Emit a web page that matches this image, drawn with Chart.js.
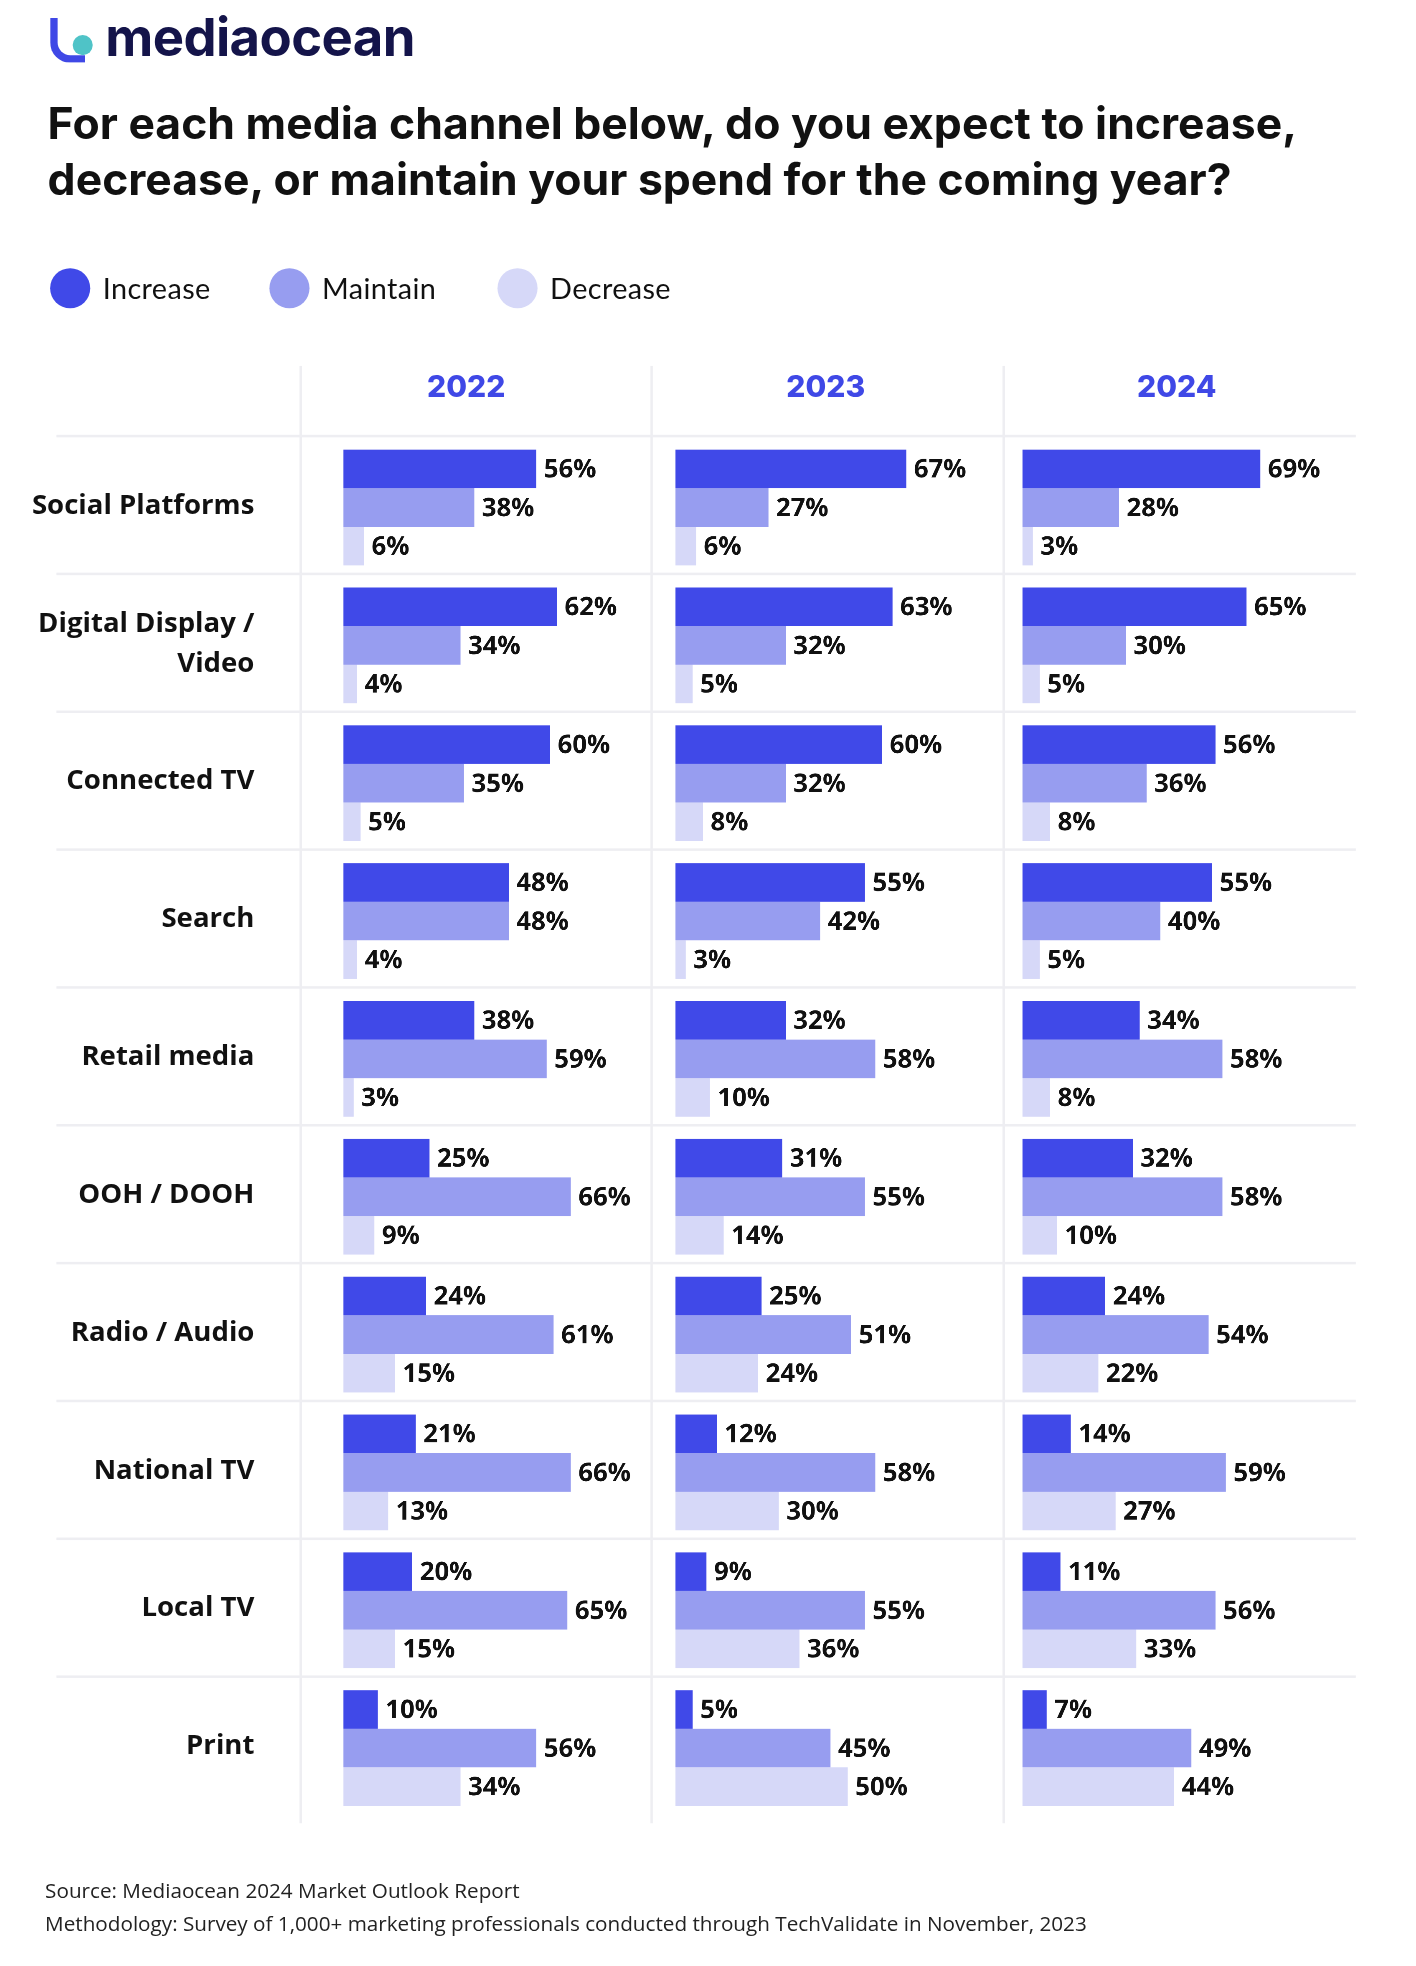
<!DOCTYPE html>
<html><head><meta charset="utf-8">
<script src="https://cdn.jsdelivr.net/npm/chart.js@4"></script>
<style>
html,body{margin:0;padding:0;background:#fff;}
#wrap{position:absolute;left:0;top:0;width:1130px;height:1569px;transform:scale(1.2531);transform-origin:0 0;font-family:Lato,"Open Sans",sans-serif;color:#111;}
.abs{position:absolute;}
.title{left:38px;top:76px;font-family:Inter,sans-serif;font-weight:700;font-size:35.5px;line-height:45px;color:#111;letter-spacing:0px;white-space:nowrap;}
.leg{top:214px;font-size:23px;display:flex;align-items:center;letter-spacing:0.3px;}
.leg i{display:inline-block;width:32px;height:32px;border-radius:50%;margin-right:10px;}
.hdr{top:294px;font-weight:800;font-size:24px;color:#3f48e6;width:200px;text-align:center;font-family:Inter,sans-serif;}
.cat{right:927px;text-align:right;font-weight:700;font-size:22px;line-height:32px;font-family:"Open Sans",sans-serif;white-space:nowrap;}
.hl{left:45px;width:1037px;height:2px;background:#eeeef2;}
.vl{top:292px;width:2px;height:1163px;background:#eeeef2;}
.src{left:36px;font-size:16.5px;color:#222;font-family:"Open Sans",sans-serif;}
canvas{position:absolute;}
</style></head><body>
<div id="wrap">
  <div class="abs" style="left:38px;top:10px;width:42px;height:36px;">
    <div class="abs" style="left:2px;top:4px;width:22px;height:30px;border:6px solid #3f48e6;border-top:none;border-right:none;border-radius:0 0 0 16px;"></div>
    <div class="abs" style="left:20px;top:18px;width:16px;height:16px;border-radius:50%;background:#4fc3c7;"></div>
  </div>
  <div class="abs" style="left:84px;top:4px;font-family:Inter,sans-serif;font-weight:700;font-size:42px;color:#14144a;letter-spacing:-0.5px;">mediaocean</div>
  <div class="abs title">For each media channel below, do you expect to increase,<br>decrease, or maintain your spend for the coming year?</div>
  <div class="abs leg" style="left:40px;"><i style="background:#4049e8"></i>Increase</div>
  <div class="abs leg" style="left:215px;"><i style="background:#979df0"></i>Maintain</div>
  <div class="abs leg" style="left:397px;"><i style="background:#d6d8f8"></i>Decrease</div>
  <canvas id="c0" width="275" height="1100"></canvas><canvas id="c1" width="275" height="1100"></canvas><canvas id="c2" width="275" height="1100"></canvas>
  <div class="abs src" style="top:1497px;">Source: Mediaocean 2024 Market Outlook Report</div>
  <div class="abs src" style="top:1523px;">Methodology: Survey of 1,000+ marketing professionals conducted through TechValidate in November, 2023</div>
</div>
<script>
const categories=["Social Platforms","Digital Display /\nVideo","Connected TV","Search","Retail media","OOH / DOOH","Radio / Audio","National TV","Local TV","Print"];
const years=["2022","2023","2024"];
const series=["Increase","Maintain","Decrease"];
const increase2022=[56,62,60,48,38,25,24,21,20,10];
const maintain2022=[38,34,35,48,59,66,61,66,65,56];
const decrease2022=[6,4,5,4,3,9,15,13,15,34];
const increase2023=[67,63,60,55,32,31,25,12,9,5];
const maintain2023=[27,32,32,42,58,55,51,58,55,45];
const decrease2023=[6,5,8,3,10,14,24,30,36,50];
const increase2024=[69,65,56,55,34,32,24,14,11,7];
const maintain2024=[28,30,36,40,58,58,54,59,56,49];
const decrease2024=[3,5,8,5,8,10,22,27,33,44];
const data=[[increase2022,maintain2022,decrease2022],[increase2023,maintain2023,decrease2023],[increase2024,maintain2024,decrease2024]];
const colors=["#4049e8","#979df0","#d6d8f8"];

const wrap=document.getElementById('wrap');
const top0=348,rowH=110;
const colX=[274,539,816],headC=[372,659,939];
[239,519,800].forEach(x=>{const d=document.createElement('div');d.className='abs vl';d.style.left=x+'px';wrap.appendChild(d);});
for(let i=0;i<10;i++){const d=document.createElement('div');d.className='abs hl';d.style.top=(top0+i*rowH-1)+'px';wrap.appendChild(d);
  const c=document.createElement('div');c.className='abs cat';const lines=categories[i].split('\n');
  c.innerHTML=lines.join('<br>');c.style.top=(top0+i*rowH+53-lines.length*16)+'px';wrap.appendChild(c);}
years.forEach((y,i)=>{const d=document.createElement('div');d.className='abs hdr';d.textContent=y;d.style.left=(headC[i]-100)+'px';wrap.appendChild(d);});

const labelPlugin={id:'lbl',afterDatasetsDraw(chart){const ctx=chart.ctx;ctx.save();ctx.font='700 20.5px "Open Sans", sans-serif';ctx.fillStyle='#111';ctx.textBaseline='middle';
  chart.data.datasets.forEach((ds,di)=>{chart.getDatasetMeta(di).data.forEach((b,j)=>{ctx.fillText(ds.data[j]+'%',b.x+6,b.y+1);});});ctx.restore();}};

years.forEach((y,i)=>{
  const cv=document.getElementById('c'+i);
  cv.style.left=colX[i]+'px';cv.style.top=(top0+2)+'px';
  cv.style.width='275px';cv.style.height='1100px';
  new Chart(cv,{type:'bar',
    data:{labels:categories,datasets:series.map((s,k)=>({label:s,data:data[i][k],backgroundColor:colors[k],borderWidth:0,categoryPercentage:0.84,barPercentage:1}))},
    options:{indexAxis:'y',responsive:false,maintainAspectRatio:false,animation:false,devicePixelRatio:3,
      layout:{padding:0},
      plugins:{legend:{display:false},tooltip:{enabled:false}},
      scales:{x:{display:false,min:0,max:100},y:{display:false}}},
    plugins:[labelPlugin]});
});
</script>
</body></html>
